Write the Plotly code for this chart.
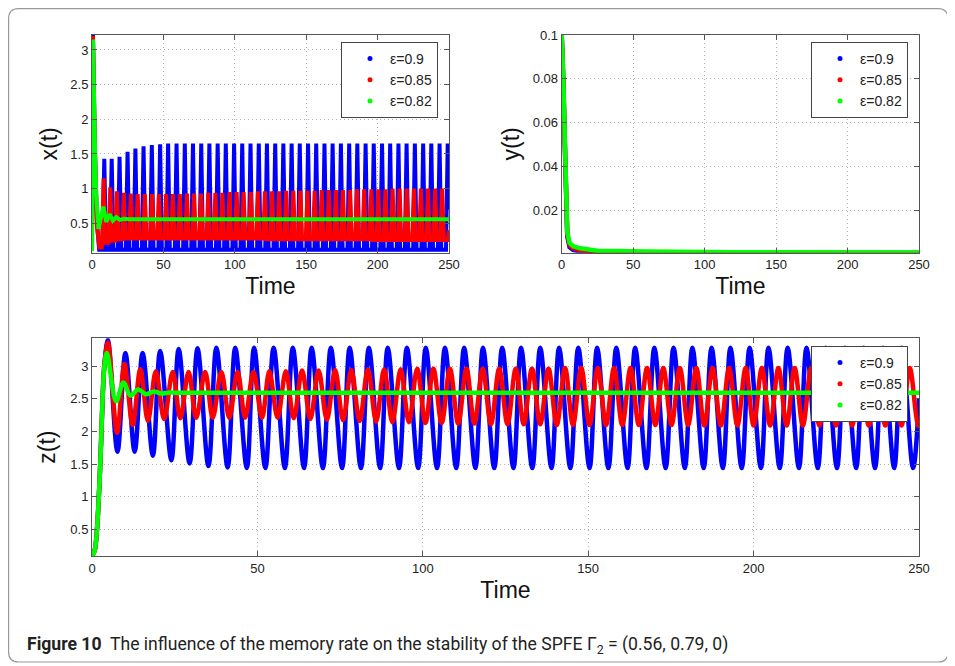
import plotly.graph_objects as go

FONT = "Liberation Sans, Arial, Helvetica, sans-serif"
BLUE, RED, GREEN = "#0000ff", "#ff0000", "#00ff00"
LABELS = ["ε=0.9", "ε=0.85", "ε=0.82"]

# ---------------- z(t) : extrema ----------------
z_rise_t = [0, 0.8, 1.5, 2.5, 3.2, 3.8]
z_rise_v = [0.10, 0.18, 0.50, 1.50, 2.50, 3.05]

z_blue_peak_t = [4.8, 10.1, 15.3, 20.6, 26.2, 31.9, 37.6, 43.3, 49.0, 54.9,
                 60.7, 66.4, 72.2, 77.9, 83.7, 89.4, 95.2, 100.9, 106.7, 112.5,
                 118.2, 124.0, 129.7, 135.5, 141.2, 147.0, 152.7, 158.5, 164.2, 170.0,
                 175.8, 181.5, 187.3, 193.0, 198.8, 204.5, 210.3, 216.0, 221.8, 227.6,
                 233.3, 239.1, 244.8]
z_blue_peak_v = [3.40, 3.20, 3.20, 3.23, 3.26, 3.27, 3.28, 3.28, 3.28, 3.28,
                 3.28, 3.28, 3.28, 3.28, 3.28, 3.28, 3.28, 3.28, 3.28, 3.28,
                 3.28, 3.28, 3.28, 3.28, 3.28, 3.28, 3.28, 3.28, 3.28, 3.28,
                 3.28, 3.28, 3.28, 3.28, 3.28, 3.28, 3.28, 3.28, 3.28, 3.28,
                 3.28, 3.28, 3.28]
z_blue_trough_t = [7.7, 12.9, 18.4, 24.0, 29.5, 35.2, 41.0, 46.8, 52.4, 58.3,
                   64.1, 69.8, 75.6, 81.3, 87.1, 92.8, 98.6, 104.3, 110.1, 115.9,
                   121.6, 127.4, 133.1, 138.9, 144.6, 150.4, 156.1, 161.9, 167.6, 173.4,
                   179.2, 184.9, 190.7, 196.4, 202.2, 207.9, 213.7, 219.4, 225.2, 231.0,
                   236.7, 242.5, 248.2]
z_blue_trough_v = [1.69, 1.69, 1.63, 1.56, 1.51, 1.47, 1.45, 1.44, 1.44, 1.44,
                   1.44, 1.44, 1.44, 1.44, 1.44, 1.44, 1.44, 1.44, 1.44, 1.44,
                   1.44, 1.44, 1.44, 1.44, 1.44, 1.44, 1.44, 1.44, 1.44, 1.44,
                   1.44, 1.44, 1.44, 1.44, 1.44, 1.44, 1.44, 1.44, 1.44, 1.44,
                   1.44, 1.44, 1.44]
z_blue_end = ([250.0], [2.50])

z_red_peak_t = [4.8, 9.8, 14.6, 19.3, 24.4, 29.2, 34.2, 39.1, 44.0, 48.8,
                53.6, 58.6, 63.5, 68.5, 73.5, 78.4, 83.4, 88.3, 93.3, 98.3,
                103.2, 108.2, 113.2, 118.1, 123.1, 128.1, 133.0, 138.0, 143.0, 147.9,
                152.9, 157.8, 162.8, 167.8, 172.7, 177.7, 182.7, 187.6, 192.6, 197.6,
                202.5, 207.5, 212.4, 217.4, 222.4, 227.3, 232.3, 237.3, 242.2, 247.2]
z_red_peak_v = [3.36, 3.03, 2.95, 2.92, 2.91, 2.91, 2.91, 2.91, 2.91, 2.91,
                2.92, 2.92, 2.93, 2.93, 2.94, 2.94, 2.95, 2.95, 2.95, 2.96,
                2.96, 2.96, 2.96, 2.96, 2.96, 2.96, 2.96, 2.96, 2.97, 2.97,
                2.97, 2.97, 2.97, 2.97, 2.97, 2.97, 2.97, 2.97, 2.97, 2.97,
                2.97, 2.97, 2.97, 2.97, 2.97, 2.97, 2.97, 2.97, 2.97, 2.97]
z_red_trough_t = [7.6, 12.3, 16.9, 21.8, 26.7, 31.5, 36.5, 41.5, 46.3, 51.4,
                  56.1, 61.0, 66.0, 71.0, 75.9, 80.9, 85.9, 90.8, 95.8, 100.8,
                  105.7, 110.7, 115.6, 120.6, 125.6, 130.5, 135.5, 140.5, 145.4, 150.4,
                  155.4, 160.3, 165.3, 170.3, 175.2, 180.2, 185.1, 190.1, 195.1, 200.0,
                  205.0, 210.0, 214.9, 219.9, 224.9, 229.8, 234.8, 239.8, 244.7, 249.7]
z_red_trough_v = [1.98, 2.10, 2.16, 2.19, 2.20, 2.21, 2.21, 2.21, 2.21, 2.21,
                  2.21, 2.20, 2.19, 2.18, 2.17, 2.16, 2.15, 2.14, 2.14, 2.13,
                  2.13, 2.12, 2.12, 2.11, 2.11, 2.11, 2.11, 2.10, 2.10, 2.10,
                  2.10, 2.10, 2.10, 2.10, 2.10, 2.10, 2.09, 2.09, 2.09, 2.09,
                  2.09, 2.09, 2.09, 2.09, 2.09, 2.09, 2.09, 2.09, 2.09, 2.09]
z_red_end = ([250.0], [2.09])

z_green_t = [0, 0.8, 1.5, 2.5, 3.2, 3.8, 4.5, 7.3, 9.5, 11.6, 14.0, 16.3, 18.7, 21.0, 23.5, 26.0, 250.0]
z_green_v = [0.10, 0.18, 0.50, 1.50, 2.50, 3.02, 3.20, 2.46, 2.75, 2.55, 2.64, 2.57, 2.61, 2.58, 2.595, 2.59, 2.59]

# ---------------- x(t) : spikes (peak) and flat-bottom troughs ----------------
x_start_t = [0.0, 2.0, 3.5]
x_blue_start_v = [0.10, 1.60, 0.50]
x_red_start_v = [0.10, 1.55, 0.45]

x_blue_peak_t = [0.7, 8.6, 13.8, 19.3, 24.9, 30.4, 36.1, 41.9, 47.7, 53.3,
                 59.2, 65.0, 70.7, 76.5, 82.2, 88.0, 93.7, 99.5, 105.2, 111.0,
                 116.8, 122.5, 128.3, 134.0, 139.8, 145.5, 151.3, 157.0, 162.8, 168.5,
                 174.3, 180.1, 185.8, 191.6, 197.3, 203.1, 208.8, 214.6, 220.3, 226.1,
                 231.9, 237.6, 243.4, 249.1]
x_blue_peak_v = [3.22, 1.43, 1.43, 1.46, 1.53, 1.58, 1.61, 1.63, 1.64, 1.65,
                 1.65, 1.65, 1.65, 1.65, 1.65, 1.65, 1.65, 1.65, 1.65, 1.65,
                 1.65, 1.65, 1.65, 1.65, 1.65, 1.65, 1.65, 1.65, 1.65, 1.65,
                 1.65, 1.65, 1.65, 1.65, 1.65, 1.65, 1.65, 1.65, 1.65, 1.65,
                 1.65, 1.65, 1.65, 1.65]
x_blue_trough_from = [5.0, 9.8, 15.0, 20.5, 26.1, 31.6, 37.3, 43.1, 48.9, 54.5,
                      60.4, 66.2, 71.9, 77.7, 83.4, 89.2, 94.9, 100.7, 106.4, 112.2,
                      118.0, 123.7, 129.5, 135.2, 141.0, 146.7, 152.5, 158.2, 164.0, 169.7,
                      175.5, 181.3, 187.0, 192.8, 198.5, 204.3, 210.0, 215.8, 221.5, 227.3,
                      233.1, 238.8, 244.6]
x_blue_trough_to = [7.4, 12.6, 18.1, 23.7, 29.2, 34.9, 40.7, 46.5, 52.1, 58.0,
                    63.8, 69.5, 75.3, 81.0, 86.8, 92.5, 98.3, 104.0, 109.8, 115.6,
                    121.3, 127.1, 132.8, 138.6, 144.3, 150.1, 155.8, 161.6, 167.3, 173.1,
                    178.9, 184.6, 190.4, 196.1, 201.9, 207.6, 213.4, 219.1, 224.9, 230.7,
                    236.4, 242.2, 247.9]
x_blue_trough_v = [0.12, 0.12, 0.12, 0.12, 0.12, 0.12, 0.12, 0.12, 0.12, 0.12,
                   0.12, 0.12, 0.12, 0.12, 0.12, 0.12, 0.12, 0.12, 0.12, 0.12,
                   0.12, 0.12, 0.12, 0.12, 0.12, 0.12, 0.12, 0.12, 0.12, 0.12,
                   0.12, 0.12, 0.12, 0.12, 0.12, 0.12, 0.12, 0.12, 0.12, 0.12,
                   0.12, 0.12, 0.12]
x_blue_end = ([250.0], [0.70])

x_red_peak_t = [0.7, 8.1, 12.8, 17.4, 22.3, 27.2, 32.0, 37.0, 42.0, 46.8,
                51.9, 56.6, 61.5, 66.5, 71.5, 76.4, 81.4, 86.4, 91.3, 96.3,
                101.3, 106.2, 111.2, 116.1, 121.1, 126.1, 131.0, 136.0, 141.0, 145.9,
                150.9, 155.9, 160.8, 165.8, 170.8, 175.7, 180.7, 185.6, 190.6, 195.6,
                200.5, 205.5, 210.5, 215.4, 220.4, 225.4, 230.3, 235.3, 240.3, 245.2]
x_red_peak_v = [3.20, 1.15, 1.02, 0.96, 0.94, 0.93, 0.92, 0.92, 0.92, 0.92,
                0.92, 0.92, 0.92, 0.93, 0.93, 0.93, 0.94, 0.94, 0.94, 0.95,
                0.95, 0.95, 0.95, 0.96, 0.96, 0.96, 0.96, 0.97, 0.97, 0.97,
                0.97, 0.97, 0.98, 0.98, 0.98, 0.98, 0.98, 0.99, 0.99, 0.99,
                0.99, 0.99, 1.00, 1.00, 1.00, 1.00, 1.00, 1.00, 1.00, 1.00]
x_red_trough_from = [5.2, 9.3, 14.0, 18.6, 23.5, 28.4, 33.2, 38.2, 43.2, 48.0,
                     53.1, 57.8, 62.7, 67.7, 72.7, 77.6, 82.6, 87.6, 92.5, 97.5,
                     102.5, 107.4, 112.4, 117.3, 122.3, 127.3, 132.2, 137.2, 142.2, 147.1,
                     152.1, 157.1, 162.0, 167.0, 172.0, 176.9, 181.9, 186.8, 191.8, 196.8,
                     201.7, 206.7, 211.7, 216.6, 221.6, 226.6, 231.5, 236.5, 241.5, 246.4]
x_red_trough_to = [6.9, 11.6, 16.2, 21.1, 26.0, 30.8, 35.8, 40.8, 45.6, 50.7,
                   55.4, 60.3, 65.3, 70.3, 75.2, 80.2, 85.2, 90.1, 95.1, 100.1,
                   105.0, 110.0, 114.9, 119.9, 124.9, 129.8, 134.8, 139.8, 144.7, 149.7,
                   154.7, 159.6, 164.6, 169.6, 174.5, 179.5, 184.4, 189.4, 194.4, 199.3,
                   204.3, 209.3, 214.2, 219.2, 224.2, 229.1, 234.1, 239.1, 244.0, 249.3]
x_red_trough_v = [0.15, 0.22, 0.25, 0.27, 0.28, 0.28, 0.28, 0.28, 0.28, 0.28,
                  0.28, 0.28, 0.28, 0.28, 0.28, 0.28, 0.28, 0.28, 0.28, 0.28,
                  0.28, 0.28, 0.28, 0.28, 0.27, 0.27, 0.27, 0.27, 0.27, 0.27,
                  0.27, 0.27, 0.27, 0.27, 0.27, 0.27, 0.27, 0.27, 0.27, 0.26,
                  0.26, 0.26, 0.26, 0.26, 0.26, 0.26, 0.26, 0.26, 0.26, 0.26]
x_red_end = ([250.0], [0.40])

x_green_t = [0, 0.7, 2.0, 3.0, 4.5, 6.3, 8.0, 10.0, 12.3, 14.6, 17.0, 19.5, 22.5, 26.0, 250.0]
x_green_v = [0.10, 3.15, 1.70, 0.90, 0.42, 0.58, 0.74, 0.52, 0.63, 0.54, 0.59, 0.55, 0.565, 0.56, 0.56]

# ---------------- y(t) ----------------
y_t = [0, 0.4, 1.1, 2.5, 3.9, 5.5, 8.0, 13.0, 25.0, 60.0, 120.0, 250.0]
y_blue_v = [0.100, 0.081, 0.079, 0.042, 0.008, 0.0030, 0.0018, 0.0010, 0.0006, 0.0004, 0.0004, 0.0004]
y_red_v = [0.100, 0.082, 0.080, 0.043, 0.009, 0.0040, 0.0025, 0.0016, 0.0009, 0.0006, 0.0005, 0.0004]
y_green_v = [0.100, 0.083, 0.081, 0.045, 0.010, 0.0050, 0.0035, 0.0025, 0.0014, 0.0010, 0.0007, 0.0006]

time_ticks = [0, 50, 100, 150, 200, 250]
xz_ticks = [0.5, 1, 1.5, 2, 2.5, 3]
xz_ticktext = ["0.5", "1", "1.5", "2", "2.5", "3"]
y_ticks = [0.02, 0.04, 0.06, 0.08, 0.1]
y_ticktext = ["0.02", "0.04", "0.06", "0.08", "0.1"]


def merge(*pairs):
    pts = []
    for ts, vs in pairs:
        assert len(ts) == len(vs), (len(ts), len(vs))
        pts += list(zip(ts, vs))
    pts.sort(key=lambda p: p[0])
    return [p[0] for p in pts], [p[1] for p in pts]


zb = merge((z_rise_t, z_rise_v), (z_blue_peak_t, z_blue_peak_v), (z_blue_trough_t, z_blue_trough_v), z_blue_end)
zr = merge((z_rise_t, z_rise_v), (z_red_peak_t, z_red_peak_v), (z_red_trough_t, z_red_trough_v), z_red_end)
xb = merge((x_start_t, x_blue_start_v), (x_blue_peak_t, x_blue_peak_v),
           (x_blue_trough_from, x_blue_trough_v), (x_blue_trough_to, x_blue_trough_v), x_blue_end)
xr = merge((x_start_t, x_red_start_v), (x_red_peak_t, x_red_peak_v),
           (x_red_trough_from, x_red_trough_v), (x_red_trough_to, x_red_trough_v), x_red_end)

fig = go.Figure()

# x(t) panel
for (t, v), c in zip([xb, xr, (x_green_t, x_green_v)], [BLUE, RED, GREEN]):
    fig.add_trace(go.Scatter(x=t, y=v, mode="lines", line=dict(color=c, width=4),
                             xaxis="x", yaxis="y", showlegend=False, hoverinfo="skip"))
# y(t) panel
for v, c in zip([y_blue_v, y_red_v, y_green_v], [BLUE, RED, GREEN]):
    fig.add_trace(go.Scatter(x=y_t, y=v, mode="lines", line=dict(color=c, width=4.5),
                             xaxis="x2", yaxis="y2", showlegend=False, hoverinfo="skip"))
# z(t) panel
for (t, v), c in zip([zb, zr, (z_green_t, z_green_v)], [BLUE, RED, GREEN]):
    fig.add_trace(go.Scatter(x=t, y=v, mode="lines", line=dict(color=c, width=4.5, shape="spline", smoothing=1.0),
                             xaxis="x3", yaxis="y3", showlegend=False, hoverinfo="skip"))

# legend entries (dot markers as in the original)
for leg, (xa, ya) in zip(["legend", "legend2", "legend3"], [("x", "y"), ("x2", "y2"), ("x3", "y3")]):
    for lab, c in zip(LABELS, [BLUE, RED, GREEN]):
        fig.add_trace(go.Scatter(x=[None], y=[None], mode="markers", name=lab,
                                 marker=dict(color=c, size=5), xaxis=xa, yaxis=ya,
                                 legend=leg, showlegend=True))

# geometry: page pixels -> paper (the page body adds an 8px offset)
OFF = 8
W, H = 955 - OFF, 666 - OFF
ML, MR, MT, MB = 92 - OFF, 955 - 919, 35 - OFF, 666 - 556
PW, PH = W - ML - MR, H - MT - MB


def px(x):
    return (x - OFF - ML) / PW


def py(y):
    return (H - MB - (y - OFF)) / PH


def dom(a, b):
    return [max(0.0, min(1.0, a)), max(0.0, min(1.0, b))]


axis_common = dict(showline=True, linecolor="#555555", linewidth=1, mirror="ticks",
                   ticks="inside", ticklen=5, tickcolor="#555555",
                   showgrid=True, gridcolor="#b4b4b4", griddash="1px,3px", gridwidth=1,
                   zeroline=False, tickfont=dict(size=13, color="#222222", family=FONT))
title_font = dict(size=23, color="#111111", family=FONT)

legend_common = dict(xanchor="left", yanchor="top", bgcolor="white", bordercolor="#444444",
                     borderwidth=1, font=dict(size=14, color="#222222", family=FONT),
                     tracegroupgap=0, indentation=8)

fig.update_layout(
    width=W, height=H,
    margin=dict(l=ML, r=MR, t=MT, b=MB),
    paper_bgcolor="white", plot_bgcolor="white",
    font=dict(family=FONT),
    xaxis=dict(domain=dom(px(92), px(449)), range=[0, 250], tickvals=time_ticks, anchor="y",
               title=dict(text="Time", font=title_font, standoff=6), **axis_common),
    yaxis=dict(domain=dom(py(252.7), py(35)), range=[0.076, 3.216], tickvals=xz_ticks, ticktext=xz_ticktext,
               anchor="x", title=dict(text="x(t)", font=title_font, standoff=6), **axis_common),
    xaxis2=dict(domain=dom(px(561.7), px(919)), range=[0, 250], tickvals=time_ticks, anchor="y2",
                title=dict(text="Time", font=title_font, standoff=6), **axis_common),
    yaxis2=dict(domain=dom(py(252.7), py(35)), range=[0.0005, 0.1], tickvals=y_ticks, ticktext=y_ticktext,
                anchor="x2", title=dict(text="y(t)", font=title_font, standoff=6), **axis_common),
    xaxis3=dict(domain=dom(px(92), px(919)), range=[0, 250], tickvals=time_ticks, anchor="y3",
                title=dict(text="Time", font=title_font, standoff=7), **axis_common),
    yaxis3=dict(domain=dom(py(556), py(338.3)), range=[0.096, 3.424], tickvals=xz_ticks, ticktext=xz_ticktext,
                anchor="x3", title=dict(text="z(t)", font=title_font, standoff=8), **axis_common),
    legend=dict(x=px(341), y=py(42), **legend_common),
    legend2=dict(x=px(811), y=py(42), **legend_common),
    legend3=dict(x=px(811), y=py(346), **legend_common),
)

# outer rounded frame
x0, x1, y0, y1, r = 8.6, 948, 8.6, 662, 10
path = (f"M {px(x0 + r)},{py(y0)} L {px(x1 - r)},{py(y0)} Q {px(x1)},{py(y0)} {px(x1)},{py(y0 + r)} "
        f"L {px(x1)},{py(y1 - r)} Q {px(x1)},{py(y1)} {px(x1 - r)},{py(y1)} "
        f"L {px(x0 + r)},{py(y1)} Q {px(x0)},{py(y1)} {px(x0)},{py(y1 - r)} "
        f"L {px(x0)},{py(y0 + r)} Q {px(x0)},{py(y0)} {px(x0 + r)},{py(y0)} Z")
fig.add_shape(type="path", path=path, xref="paper", yref="paper",
              line=dict(color="#9a9a9a", width=1.2), layer="below")

fig.add_annotation(
    x=px(25), y=py(645), xref="paper", yref="paper", xanchor="left", yanchor="middle",
    showarrow=False,
    text="<b>Figure 10</b>  The influence of the memory rate on the stability of the SPFE "
         "Γ<sub>2</sub> = (0.56, 0.79, 0)",
    font=dict(size=17.6, color="#222222", family="Roboto, Noto Sans, sans-serif"))

fig.write_html("out.html")
